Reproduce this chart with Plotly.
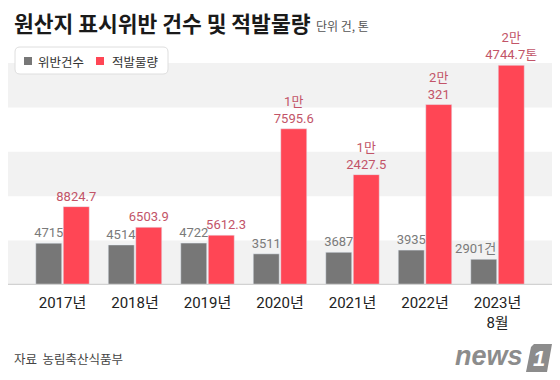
import plotly.graph_objects as go

categories = ["2017년", "2018년", "2019년", "2020년", "2021년", "2022년", "2023년<br>8월"]
violations = [4715, 4514, 4722, 3511, 3687, 3935, 2901]
volumes = [8824.7, 6503.9, 5612.3, 17595.6, 12427.5, 20321, 24744.7]
violation_labels = ["4715", "4514", "4722", "3511", "3687", "3935", "2901건\u00a0\u00a0\u00a0\u00a0\u00a0"]
volume_labels = ["8824.7", "6503.9", "\u00a0\u00a0\u00a05612.3", "1만<br>7595.6", "1만<br>2427.5", "2만<br>321", "2만<br>4744.7톤"]
series_names = ["위반건수", "적발물량"]

# page body has an 8px margin: figure drawn 8px in from the window edge
OFF = 8
W, H = 552, 372
ML, MR, MT, MB = 0, 4, 55, 95
PW, PH = W - ML - MR, H - MT - MB


def px(x):  # x in window pixels -> paper
    return (x - OFF - ML) / PW


def py(y):  # y in window pixels -> paper
    return (H - MB - (y - OFF)) / PH


FONT = "Roboto, 'Noto Sans CJK KR', sans-serif"
KFONT = "'Noto Sans CJK KR', sans-serif"
GRAY = "#777777"
RED = "#ff4655"

fig = go.Figure()
fig.add_trace(go.Bar(
    x=categories, y=violations, name=series_names[0], marker_color=GRAY,
    text=violation_labels, textposition="outside", cliponaxis=False,
    constraintext="none",
    outsidetextfont=dict(family=FONT, size=13, color="#7a7a7a"),
    hoverinfo="skip",
))
fig.add_trace(go.Bar(
    x=categories, y=volumes, name=series_names[1], marker_color=RED,
    text=volume_labels, textposition="outside", cliponaxis=False,
    constraintext="none",
    outsidetextfont=dict(family=FONT, size=13, color="#c25468"),
    hoverinfo="skip",
))

shapes = []
for lo, hi in [(0, 5000), (10000, 15000), (20000, 25000)]:
    shapes.append(dict(type="rect", xref="paper", yref="y", x0=0, x1=1, y0=lo, y1=hi,
                       fillcolor="#f2f2f2", line=dict(width=0), layer="below"))
shapes.append(dict(type="line", xref="paper", yref="y", x0=0, x1=1, y0=0, y1=0,
                   line=dict(color="#d2d2d2", width=2.5), layer="above"))

# legend box (rounded)
x0, x1, y0, y1, r = 15, 168, 47, 74, 5
rx, ry = r / PW, r / PH
X0, X1, Y0, Y1 = px(x0), px(x1), py(y1), py(y0)
path = (f"M{X0+rx},{Y1} L{X1-rx},{Y1} Q{X1},{Y1} {X1},{Y1-ry} "
        f"L{X1},{Y0+ry} Q{X1},{Y0} {X1-rx},{Y0} L{X0+rx},{Y0} "
        f"Q{X0},{Y0} {X0},{Y0+ry} L{X0},{Y1-ry} Q{X0},{Y1} {X0+rx},{Y1} Z")
shapes.append(dict(type="path", xref="paper", yref="paper", path=path,
                   fillcolor="white", line=dict(color="#dedede", width=1), layer="above"))
for (sx0, sx1), col in [((24, 32), GRAY), ((96, 104), RED)]:
    shapes.append(dict(type="rect", xref="paper", yref="paper", x0=px(sx0), x1=px(sx1),
                       y0=py(65), y1=py(57), fillcolor=col, line=dict(width=0), layer="above"))

# news1 logo badge
lx0, lx1, ly0, ly1 = 526, 552, 344, 372
sk = 5
path2 = (f"M{px(lx0+sk+3)},{py(ly0)} L{px(lx1)},{py(ly0)} L{px(lx1-sk)},{py(ly1)} "
         f"L{px(lx0)},{py(ly1)} L{px(lx0+sk)},{py(ly0+3)} Z")
shapes.append(dict(type="path", xref="paper", yref="paper", path=path2,
                   fillcolor="#8c8c8c", line=dict(width=0), layer="above"))

annotations = [
    dict(text="<b>원산지 표시위반 건수 및 적발물량</b>", x=px(12), y=py(22.5), xref="paper", yref="paper",
         xanchor="left", yanchor="middle", showarrow=False,
         font=dict(family=KFONT, size=21.5, color="#1a1a1a")),
    dict(text="단위 건, 톤", x=px(314), y=py(26), xref="paper", yref="paper",
         xanchor="left", yanchor="middle", showarrow=False,
         font=dict(family=KFONT, size=12, color="#555555")),
    dict(text=series_names[0], x=px(36), y=py(61), xref="paper", yref="paper",
         xanchor="left", yanchor="middle", showarrow=False,
         font=dict(family=KFONT, size=12.5, color="#333333")),
    dict(text=series_names[1], x=px(110), y=py(61), xref="paper", yref="paper",
         xanchor="left", yanchor="middle", showarrow=False,
         font=dict(family=KFONT, size=12.5, color="#333333")),
    dict(text="자료  농림축산식품부", x=px(12), y=py(358), xref="paper", yref="paper",
         xanchor="left", yanchor="middle", showarrow=False,
         font=dict(family=KFONT, size=12.5, color="#444444")),
    dict(text="<b><i>news</i></b>", x=px(525), y=py(356), xref="paper", yref="paper",
         xanchor="right", yanchor="middle", showarrow=False,
         font=dict(family="'Liberation Sans', Arial, sans-serif", size=27, color="#8c8c8c")),
    dict(text="<b><i>1</i></b>", x=px(539), y=py(358), xref="paper", yref="paper",
         xanchor="center", yanchor="middle", showarrow=False,
         font=dict(family="'Liberation Sans', Arial, sans-serif", size=22, color="white")),
]

left = (62.5 - OFF - ML) / 72.5
right = (OFF + W - MR - 497.5) / 72.5

fig.update_layout(
    width=W, height=H,
    margin=dict(l=ML, r=MR, t=MT, b=MB, pad=0),
    paper_bgcolor="white", plot_bgcolor="white",
    barmode="group", bargap=0.241, bargroupgap=0.055,
    showlegend=False,
    shapes=shapes, annotations=annotations,
    xaxis=dict(type="category", range=[-left, 6 + right], showgrid=False, zeroline=False,
               showline=False, ticks="outside", ticklen=4, tickcolor="rgba(0,0,0,0)",
               tickfont=dict(family=FONT, size=15, color="#222222"), fixedrange=True),
    yaxis=dict(range=[0, 25000], visible=False, fixedrange=True),
)

fig.write_html("out.html")
